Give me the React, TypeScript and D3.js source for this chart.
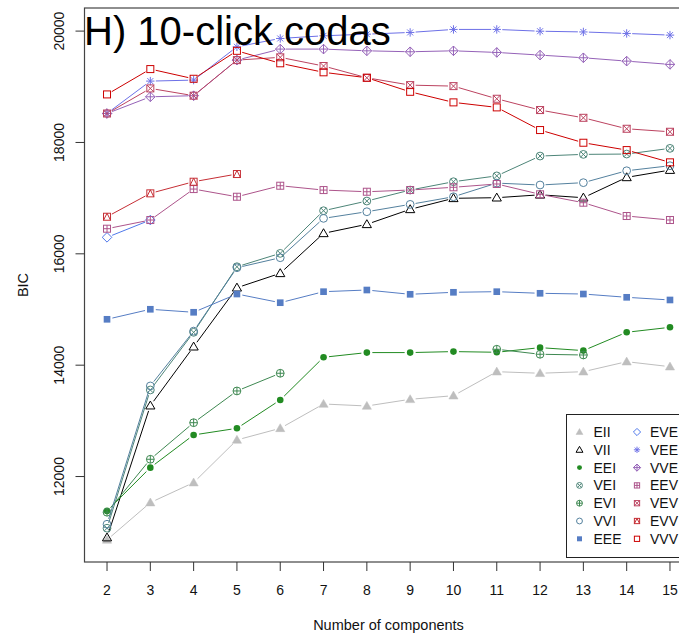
import React from "react";
import * as d3 from "d3";

// Number of mixture components on the x axis
const components = [2, 3, 4, 5, 6, 7, 8, 9, 10, 11, 12, 13, 14, 15];

// BIC per covariance model (null = model not fitted for that number of components)
const EII = [10862, 11532, 11891, 12657, 12866, 13303, 13267, 13387, 13452, 13883, 13855, 13883, 14063, 13973];
const VII = [10904, 13273, 14332, 15391, 15650, 16368, 16530, 16799, 16997, 17008, 17060, 17008, 17373, 17504];
const EEI = [11383, 12160, 12747, 12866, 13375, 14142, 14226, 14226, 14244, 14232, 14315, 14262, 14591, 14680];
const VEI = [11072, 13555, 14590, 15768, 16008, 16774, 16948, 17145, 17295, 17400, 17756, 17786, 17792, 17894];
const EVI = [11359, 12310, 12967, 13537, 13855, null, null, null, null, 14286, 14196, 14183, null, null];
const VVI = [11143, 13627, 14612, 15750, 15930, 16637, 16756, 16888, 17025, 17270, 17236, 17278, 17492, 17582];
const EEE = [14824, 15004, 14950, 15278, 15122, 15320, 15350, 15273, 15309, 15320, 15291, 15278, 15219, 15171];
const EVE = [16296, 16607, null, null, null, null, null, null, null, null, null, null, null, null];
const VEE = [18522, 19102, 19120, 19718, 19868, 19916, 19945, 19976, 20030, 20030, 19998, 19985, 19958, 19928];
const VVE = [18520, 18820, 18840, 19479, 19677, 19677, 19646, 19629, 19646, 19617, 19569, 19521, 19461, 19402];
const EEV = [16451, 16607, 17163, 17025, 17223, 17145, 17115, 17146, 17195, 17254, 17069, 16918, 16679, 16607];
const VEV = [18520, 18971, 18840, 19479, 19529, 19373, 19162, 19030, 19012, 18785, 18582, 18443, 18246, 18192];
const EVV = [16666, 17086, 17295, 17433, null, null, null, null, null, null, null, null, null, null];
const VVV = [18863, 19318, 19144, 19646, 19422, 19260, 19162, 18910, 18720, 18630, 18223, 17995, 17863, 17643];

const modelNames = ["EII", "VII", "EEI", "VEI", "EVI", "VVI", "EEE", "EVE", "VEE", "VVE", "EEV", "VEV", "EVV", "VVV"];
const modelValues: Record<string, (number | null)[]> = {
  EII, VII, EEI, VEI, EVI, VVI, EEE, EVE, VEE, VVE, EEV, VEV, EVV, VVV,
};

// R plotting symbols used for each model
const modelPch: Record<string, number> = {
  EII: 17, VII: 2, EEI: 16, VEI: 13, EVI: 10, VVI: 1, EEE: 15,
  EVE: 5, VEE: 8, VVE: 9, EEV: 12, VEV: 7, EVV: 14, VVV: 0,
};

const yTicks = [12000, 14000, 16000, 18000, 20000];

const titleText = "H) 10-click codas";
const xLabel = "Number of components";
const yLabel = "BIC";

// Colour ramp forestgreen -> royalblue1 -> red3 in Lab space
const ramp = d3.piecewise(d3.interpolateLab, ["#228B22", "#4876FF", "#CD0000"]);
const rampOrder = ["EEI", "EVI", "VEI", "VVI", "EEE", "EVE", "VEE", "VVE", "EEV", "VEV", "EVV", "VVV"];
const modelColor: Record<string, string> = { EII: "#BEBEBE", VII: "#000000" };
rampOrder.forEach((m, i) => {
  modelColor[m] = d3.color(ramp(i / 11))!.formatHex();
});

const W = 679;
const H = 636;
const plotLeft = 84.5;
const plotRight = 692.5;
const plotTop = 8;
const plotBottom = 562;

const x = d3.scaleLinear().domain([1.48, 15.52]).range([plotLeft, plotRight]);
const y = d3.scaleLinear().domain([10465, 20415]).range([plotBottom, plotTop]);

function Marker({ pch, cx, cy, color, k = 1 }: { pch: number; cx: number; cy: number; color: string; k?: number }) {
  const sw = 1;
  const sq = 3.5 * k;
  const cr = 3.9 * k;
  const common = { stroke: color, strokeWidth: sw, fill: "none" };
  switch (pch) {
    case 0:
      return <rect x={cx - sq} y={cy - sq} width={2 * sq} height={2 * sq} {...common} />;
    case 1:
      return <circle cx={cx} cy={cy} r={cr} {...common} />;
    case 2:
    case 17: {
      const t = 4.6 * k;
      const pts = `${cx},${cy - t} ${cx - t},${cy + t * 0.72} ${cx + t},${cy + t * 0.72}`;
      return pch === 2 ? (
        <polygon points={pts} {...common} />
      ) : (
        <polygon points={pts} fill={color} stroke={color} strokeWidth={0.5} />
      );
    }
    case 5:
    case 9: {
      const d = 4.8 * k;
      const pts = `${cx},${cy - d} ${cx + d},${cy} ${cx},${cy + d} ${cx - d},${cy}`;
      return (
        <g {...common}>
          <polygon points={pts} />
          {pch === 9 && <path d={`M${cx - d},${cy}H${cx + d}M${cx},${cy - d}V${cy + d}`} />}
        </g>
      );
    }
    case 7:
    case 12:
    case 14: {
      let inner = "";
      if (pch === 7) inner = `M${cx - sq},${cy - sq}L${cx + sq},${cy + sq}M${cx - sq},${cy + sq}L${cx + sq},${cy - sq}`;
      if (pch === 12) inner = `M${cx - sq},${cy}H${cx + sq}M${cx},${cy - sq}V${cy + sq}`;
      if (pch === 14) inner = `M${cx - sq},${cy + sq}L${cx},${cy - sq}L${cx + sq},${cy + sq}`;
      return (
        <g {...common}>
          <rect x={cx - sq} y={cy - sq} width={2 * sq} height={2 * sq} />
          <path d={inner} />
        </g>
      );
    }
    case 8: {
      const a = 4.2 * k;
      const b = a * 0.7071;
      return (
        <path
          d={`M${cx - a},${cy}H${cx + a}M${cx},${cy - a}V${cy + a}M${cx - b},${cy - b}L${cx + b},${cy + b}M${cx - b},${cy + b}L${cx + b},${cy - b}`}
          {...common}
        />
      );
    }
    case 10:
    case 13: {
      const inner =
        pch === 10
          ? `M${cx - cr},${cy}H${cx + cr}M${cx},${cy - cr}V${cy + cr}`
          : `M${cx - cr * 0.707},${cy - cr * 0.707}L${cx + cr * 0.707},${cy + cr * 0.707}M${cx - cr * 0.707},${cy + cr * 0.707}L${cx + cr * 0.707},${cy - cr * 0.707}`;
      return (
        <g {...common}>
          <circle cx={cx} cy={cy} r={cr} />
          <path d={inner} />
        </g>
      );
    }
    case 15:
      return <rect x={cx - sq * 0.95} y={cy - sq * 0.95} width={2 * sq * 0.95} height={2 * sq * 0.95} fill={color} />;
    case 16:
      return <circle cx={cx} cy={cy} r={3.3 * k} fill={color} />;
    default:
      return null;
  }
}

// Segments between consecutive points, with a gap left around each symbol
function gappedSegments(vals: (number | null)[], gap: number) {
  const segs: string[] = [];
  for (let i = 0; i < vals.length - 1; i++) {
    const a = vals[i];
    const b = vals[i + 1];
    if (a == null || b == null) continue;
    const x0 = x(components[i]);
    const y0 = y(a);
    const x1 = x(components[i + 1]);
    const y1 = y(b);
    const len = Math.hypot(x1 - x0, y1 - y0);
    if (len <= 2 * gap) continue;
    const ux = (x1 - x0) / len;
    const uy = (y1 - y0) / len;
    segs.push(`M${x0 + ux * gap},${y0 + uy * gap}L${x1 - ux * gap},${y1 - uy * gap}`);
  }
  return segs.join("");
}

export default function App() {
  const font = "'Liberation Sans', Arial, Helvetica, sans-serif";
  const legendLeft = 566.5;
  const legendTop = 414.5;
  const rowH = 17.8;
  const firstRow = 432;
  const col1 = modelNames.slice(0, 7);
  const col2 = modelNames.slice(7);

  return (
    <svg
      width={W}
      height={H}
      viewBox={`0 0 ${W} ${H}`}
      style={{ position: "absolute", left: 0, top: 0, background: "#fff" }}
      fontFamily={font}
    >
      <rect x={0} y={0} width={W} height={H} fill="#fff" />

      {/* model curves */}
      {modelNames.map((m) => (
        <g key={m}>
          <path d={gappedSegments(modelValues[m], 5.5)} stroke={modelColor[m]} strokeWidth={1} fill="none" />
          {modelValues[m].map((v, i) =>
            v == null ? null : (
              <Marker key={i} pch={modelPch[m]} cx={x(components[i])} cy={y(v)} color={modelColor[m]} />
            )
          )}
        </g>
      ))}

      {/* plot frame */}
      <rect
        x={plotLeft}
        y={plotTop}
        width={plotRight - plotLeft}
        height={plotBottom - plotTop}
        fill="none"
        stroke="#444"
        strokeWidth={1.2}
      />

      {/* x axis */}
      {components.map((c) => (
        <g key={c}>
          <line x1={x(c)} x2={x(c)} y1={plotBottom} y2={plotBottom + 9} stroke="#333" strokeWidth={1} />
          <text x={x(c)} y={595} fontSize={14} textAnchor="middle" fill="#111">
            {c}
          </text>
        </g>
      ))}
      <text x={(plotLeft + plotRight) / 2} y={630} fontSize={14.5} textAnchor="middle" fill="#111">
        {xLabel}
      </text>

      {/* y axis */}
      {yTicks.map((t) => (
        <g key={t}>
          <line x1={plotLeft} x2={plotLeft - 9} y1={y(t)} y2={y(t)} stroke="#333" strokeWidth={1} />
          <text
            transform={`translate(64,${y(t)}) rotate(-90)`}
            fontSize={14}
            textAnchor="middle"
            fill="#111"
          >
            {t}
          </text>
        </g>
      ))}
      <text
        transform={`translate(28,${(plotTop + plotBottom) / 2}) rotate(-90)`}
        fontSize={14.5}
        textAnchor="middle"
        fill="#111"
      >
        {yLabel}
      </text>

      {/* legend */}
      <rect x={legendLeft} y={legendTop} width={140} height={143} fill="#fff" stroke="#222" strokeWidth={1} />
      {[col1, col2].map((col, ci) =>
        col.map((m, ri) => {
          const cy = firstRow + ri * rowH;
          const sx = ci === 0 ? 579.5 : 637;
          const tx = ci === 0 ? 593.5 : 650;
          return (
            <g key={m}>
              <Marker pch={modelPch[m]} cx={sx} cy={cy} color={modelColor[m]} k={0.75} />
              <text x={tx} y={cy + 5} fontSize={14} fill="#111">
                {m}
              </text>
            </g>
          );
        })
      )}

      {/* panel title */}
      <text x={84} y={45} fontSize={40} fill="#000">
        {titleText}
      </text>
    </svg>
  );
}
